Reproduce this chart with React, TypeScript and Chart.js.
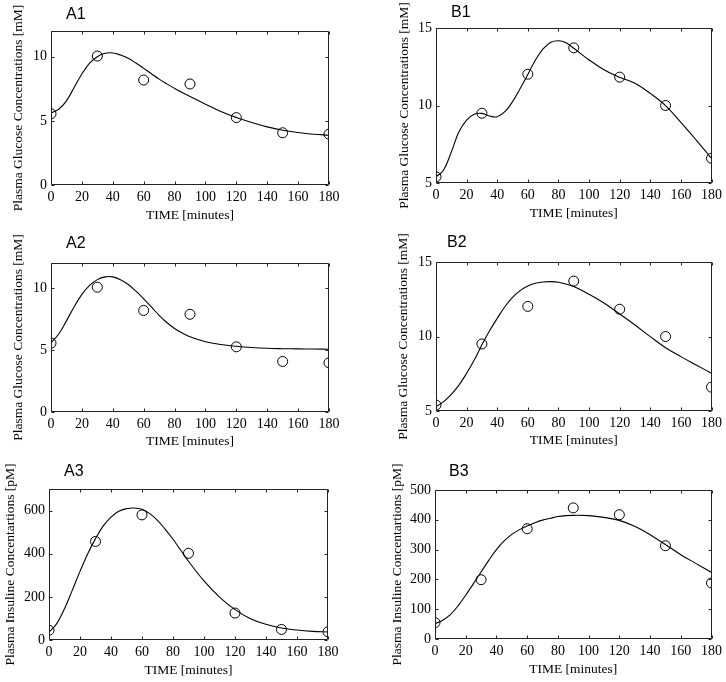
import { useEffect, useRef } from "react";
import { Chart, registerables } from "chart.js";

Chart.register(...registerables);

// ---------- data ----------
const sampleTimes = [0, 30, 60, 90, 120, 150, 180];
const glucoseObsA = [5.55, 10.05, 8.18, 7.87, 5.25, 4.07, 3.96];
const glucoseObsB = [5.4, 9.5, 12.02, 13.72, 11.83, 10.0, 6.6];
const insulinObsA = [45, 457, 580, 402, 125, 49, 38];
const insulinObsB = [55, 199, 370, 440, 417, 313, 188];

const modelTimes = [0, 5, 10, 15, 20, 25, 30, 35, 40, 45, 50, 55, 60, 65, 70, 75, 80, 85, 90, 100, 110, 120, 130, 140, 150, 160, 170, 180];
const modelA1 = [5.6, 5.9, 6.56, 7.6, 8.65, 9.5, 10.0, 10.26, 10.29, 10.13, 9.87, 9.5, 9.09, 8.67, 8.25, 7.88, 7.53, 7.2, 6.9, 6.3, 5.72, 5.26, 4.87, 4.53, 4.27, 4.09, 3.96, 3.88];
const modelB1 = [5.4, 5.84, 7.0, 8.3, 9.06, 9.43, 9.49, 9.32, 9.28, 9.6, 10.25, 11.1, 12.0, 12.94, 13.65, 14.08, 14.18, 14.05, 13.69, 12.94, 12.29, 11.82, 11.43, 10.78, 9.99, 8.91, 7.77, 6.59];
const modelA2 = [5.56, 6.28, 7.34, 8.48, 9.47, 10.19, 10.66, 10.88, 10.88, 10.66, 10.27, 9.73, 9.12, 8.46, 7.79, 7.21, 6.73, 6.36, 6.06, 5.66, 5.43, 5.29, 5.19, 5.13, 5.1, 5.08, 5.07, 5.05];
const modelB2 = [5.29, 5.63, 6.12, 6.74, 7.53, 8.42, 9.44, 10.38, 11.22, 12.0, 12.63, 13.08, 13.39, 13.57, 13.66, 13.68, 13.64, 13.52, 13.35, 12.83, 12.23, 11.51, 10.77, 9.99, 9.25, 8.65, 8.09, 7.53];
const modelA3 = [37, 76, 145, 230, 318, 400, 470, 529, 570, 597, 609, 612, 606, 586, 555, 513, 467, 416, 365, 274, 199, 141, 99, 73, 56, 46, 40, 37];
const modelB3 = [51, 63, 82, 111, 147, 186, 225, 264, 300, 329, 351, 367, 379, 390, 399, 405, 411, 414, 415, 414, 408, 398, 378, 350, 317, 283, 253, 223];

const xTicks = [0, 20, 40, 60, 80, 100, 120, 140, 160, 180];
const glucoseTicksA = [0, 5, 10];
const glucoseTicksB = [5, 10, 15];
const insulinTicksA = [0, 200, 400, 600];
const insulinTicksB = [0, 100, 200, 300, 400, 500];

const panelLabels = ["A1", "B1", "A2", "B2", "A3", "B3"];
const glucoseTitle = "Plasma Glucose Concentrations [mM]";
const insulinTitle = "Plasma Insuline Concentartions [pM]";
const xTitle = "TIME [minutes]";

// ---------- layout ----------
type Panel = {
  label: string;
  yTitle: string;
  yMin: number;
  yMax: number;
  yTicks: number[];
  obs: number[];
  model: number[];
  cv: { x: number; y: number; w: number; h: number };
  area: { L: number; T: number; R: number; B: number };
  yTitleX: number;
  xTitleY: number;
  labelDx: number;
  labelDy: number;
};

const panels: Panel[] = [
  { label: panelLabels[0], yTitle: glucoseTitle, yMin: 0, yMax: 12, yTicks: glucoseTicksA, obs: glucoseObsA, model: modelA1,
    cv: { x: 0, y: 0, w: 363, h: 228 }, area: { L: 51, T: 31, R: 329, B: 185 }, yTitleX: 18.5, xTitleY: 215, labelDx: 15, labelDy: 16 },
  { label: panelLabels[1], yTitle: glucoseTitle, yMin: 5, yMax: 15, yTicks: glucoseTicksB, obs: glucoseObsB, model: modelB1,
    cv: { x: 363, y: 0, w: 363, h: 228 }, area: { L: 436, T: 28, R: 713, B: 183 }, yTitleX: 404.5, xTitleY: 213, labelDx: 15, labelDy: 15 },
  { label: panelLabels[2], yTitle: glucoseTitle, yMin: 0, yMax: 12, yTicks: glucoseTicksA, obs: glucoseObsA, model: modelA2,
    cv: { x: 0, y: 228, w: 363, h: 227 }, area: { L: 51, T: 263, R: 329, B: 412 }, yTitleX: 18.5, xTitleY: 441, labelDx: 15, labelDy: 19 },
  { label: panelLabels[3], yTitle: glucoseTitle, yMin: 5, yMax: 15, yTicks: glucoseTicksB, obs: glucoseObsB, model: modelB2,
    cv: { x: 363, y: 228, w: 363, h: 227 }, area: { L: 436, T: 262, R: 713, B: 411 }, yTitleX: 403.5, xTitleY: 440, labelDx: 11, labelDy: 19 },
  { label: panelLabels[4], yTitle: insulinTitle, yMin: 0, yMax: 700, yTicks: insulinTicksA, obs: insulinObsA, model: modelA3,
    cv: { x: 0, y: 455, w: 363, h: 227 }, area: { L: 49, T: 489, R: 328, B: 640 }, yTitleX: 10, xTitleY: 670, labelDx: 15, labelDy: 17 },
  { label: panelLabels[5], yTitle: insulinTitle, yMin: 0, yMax: 500, yTicks: insulinTicksB, obs: insulinObsB, model: modelB3,
    cv: { x: 363, y: 455, w: 363, h: 227 }, area: { L: 435, T: 490, R: 712, B: 639 }, yTitleX: 397, xTitleY: 669, labelDx: 14, labelDy: 18 },
];

const SERIF = '"Liberation Serif", "Times New Roman", serif';
const SANS = '"Liberation Sans", Arial, sans-serif';
const TICK_SIZE = 14;
const TITLE_SIZE = 13.5;
const LINE_H = TITLE_SIZE * 1.2;

const framePlugin = {
  id: "matlabFrame",
  afterDraw(chart: any, _args: any, opts: any) {
    const { ctx, chartArea } = chart;
    const { left, top, right, bottom } = chartArea;
    const xs = chart.scales.x;
    const ys = chart.scales.y;
    const l = Math.round(left) + 0.5;
    const t = Math.round(top) + 0.5;
    const r = Math.round(right) - 0.5;
    const b = Math.round(bottom) - 0.5;
    ctx.save();
    ctx.strokeStyle = "#222";
    ctx.lineWidth = 1;
    ctx.beginPath();
    ctx.rect(l, t, r - l, b - t);
    const tl = 3;
    xs.ticks.forEach((tk: any) => {
      const px = Math.round(xs.getPixelForValue(tk.value)) + 0.5;
      ctx.moveTo(px, b);
      ctx.lineTo(px, b - tl);
      ctx.moveTo(px, t);
      ctx.lineTo(px, t + tl);
    });
    ys.ticks.forEach((tk: any) => {
      const py = Math.round(ys.getPixelForValue(tk.value)) + 0.5;
      ctx.moveTo(l, py);
      ctx.lineTo(l + tl, py);
      ctx.moveTo(r, py);
      ctx.lineTo(r - tl, py);
    });
    ctx.stroke();
    ctx.fillStyle = "#000";
    ctx.font = `16px ${SANS}`;
    ctx.textBaseline = "middle";
    ctx.textAlign = "left";
    ctx.fillText(opts.label, left + opts.dx, top - opts.dy);
    ctx.restore();
  },
};

function PanelChart({ p }: { p: Panel }) {
  const ref = useRef<HTMLCanvasElement | null>(null);
  useEffect(() => {
    if (!ref.current) return;
    const { cv, area } = p;
    const yAxisWidth = area.L - cv.x;
    const xAxisHeight = cv.y + cv.h - area.B;
    const chart = new Chart(ref.current, {
      type: "scatter",
      data: {
        datasets: [
          {
            type: "scatter",
            data: sampleTimes.map((t, i) => ({ x: t, y: p.obs[i] })),
            pointStyle: "circle",
            pointRadius: 5,
            pointBorderWidth: 1,
            pointBorderColor: "#000",
            pointBackgroundColor: "rgba(0,0,0,0)",
            showLine: false,
            order: 1,
          } as any,
          {
            type: "line",
            data: modelTimes.map((t, i) => ({ x: t, y: p.model[i] })),
            borderColor: "#000",
            borderWidth: 1.1,
            pointRadius: 0,
            fill: false,
            tension: 0.4,
            order: 2,
          } as any,
        ],
      },
      options: {
        animation: false,
        responsive: false,
        maintainAspectRatio: false,
        events: [],
        layout: {
          padding: {
            left: 0,
            top: area.T - cv.y,
            right: cv.x + cv.w - area.R,
            bottom: 0,
          },
        },
        plugins: {
          legend: { display: false },
          tooltip: { enabled: false },
          matlabFrame: { label: p.label, dx: p.labelDx, dy: p.labelDy },
        } as any,
        scales: {
          x: {
            type: "linear",
            min: 0,
            max: 180,
            afterBuildTicks: (s: any) => {
              s.ticks = xTicks.map((v) => ({ value: v }));
            },
            afterFit: (s: any) => {
              s.height = xAxisHeight;
            },
            grid: { display: false, drawTicks: false },
            border: { display: false },
            ticks: {
              color: "#000",
              padding: 4,
              maxRotation: 0,
              autoSkip: false,
              font: { family: SERIF, size: TICK_SIZE },
            },
            title: {
              display: true,
              text: xTitle,
              color: "#000",
              font: { family: SERIF, size: TITLE_SIZE },
              padding: { top: 0, bottom: cv.y + cv.h - p.xTitleY - LINE_H / 2 },
            },
          },
          y: {
            type: "linear",
            min: p.yMin,
            max: p.yMax,
            afterBuildTicks: (s: any) => {
              s.ticks = p.yTicks.map((v) => ({ value: v }));
            },
            afterFit: (s: any) => {
              s.width = yAxisWidth;
            },
            grid: { display: false, drawTicks: false },
            border: { display: false },
            ticks: {
              color: "#000",
              padding: 4,
              autoSkip: false,
              font: { family: SERIF, size: TICK_SIZE },
            },
            title: {
              display: true,
              text: p.yTitle,
              color: "#000",
              font: { family: SERIF, size: TITLE_SIZE },
              padding: { top: p.yTitleX - cv.x - LINE_H / 2, bottom: 0 },
            },
          },
        },
      },
      plugins: [framePlugin as any],
    });
    return () => chart.destroy();
  }, [p]);
  return (
    <canvas
      ref={ref}
      width={p.cv.w}
      height={p.cv.h}
      style={{ position: "absolute", left: p.cv.x, top: p.cv.y, width: p.cv.w, height: p.cv.h }}
    />
  );
}

export default function App() {
  return (
    <div style={{ position: "absolute", left: 0, top: 0, width: 726, height: 682, background: "#fff" }}>
      {panels.map((p) => (
        <PanelChart key={p.label} p={p} />
      ))}
    </div>
  );
}
